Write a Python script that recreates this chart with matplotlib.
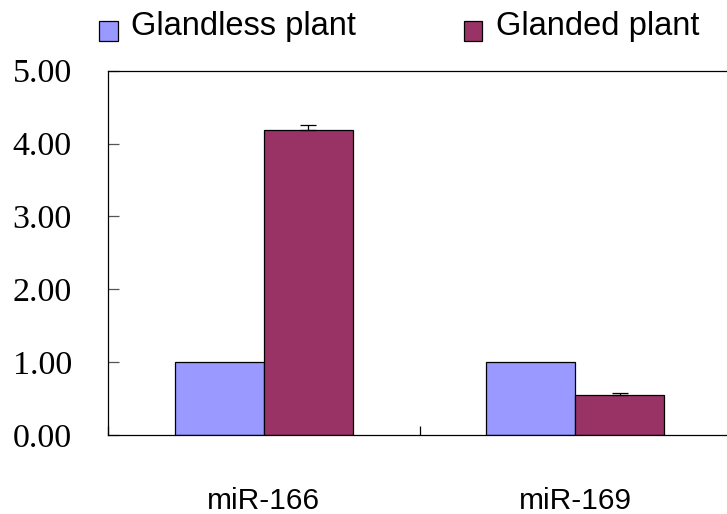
import numpy as np
import matplotlib.pyplot as plt
from matplotlib.patches import Rectangle
from matplotlib.legend_handler import HandlerPatch

# data
categories = ['miR-166', 'miR-169']
series_names = ['Glandless plant', 'Glanded plant']
glandless = [1.00, 1.00]
glanded = [4.18, 0.55]
glanded_err = [0.08, 0.03]
y_ticks = [0, 1, 2, 3, 4, 5]

colors = ['#9999FF', '#993366']
bar_w = 0.2857


# Excel-like legend key: square sits a bit below the text centre
def low_square(legend, orig_handle, xdescent, ydescent, width, height, fontsize):
    return Rectangle((-xdescent, -ydescent - 5.8), width, height)


fig = plt.figure(figsize=(7.27, 5.14), dpi=100)
ax = fig.add_axes([108 / 727, 79 / 514, 623 / 727, 364.3 / 514])

x = np.arange(len(categories))
b1 = ax.bar(x - bar_w / 2, glandless, bar_w, color=colors[0],
            edgecolor='black', linewidth=0.9, label=series_names[0], zorder=2)
b2 = ax.bar(x + bar_w / 2, glanded, bar_w, color=colors[1],
            edgecolor='black', linewidth=0.9, label=series_names[1], zorder=2)
# upper error bars only
ax.errorbar(x + bar_w / 2, glanded, yerr=[np.zeros(len(glanded)), glanded_err],
            fmt='none', ecolor='black', elinewidth=0.9, capsize=6, capthick=0.9, zorder=3)

ax.set_xlim(-0.5, 1.5)
ax.set_ylim(0, 5)

ax.set_yticks(y_ticks)
ax.set_yticklabels([f'{v:.2f}' for v in y_ticks], family='Liberation Serif', fontsize=24.5)
ax.tick_params(axis='y', direction='in', length=8, width=0.9, color='#555555', pad=26)

ax.set_xticks(x)
ax.set_xticklabels(categories, family='Liberation Sans', fontsize=21.5)
ax.tick_params(axis='x', which='major', length=0, pad=37.5)
ax.set_xticks([-0.5, 0.5, 1.5], minor=True)
ax.tick_params(axis='x', which='minor', direction='in', length=6.5, width=0.9, color='black')

for side in ['left', 'bottom', 'top']:
    ax.spines[side].set_color('black')
    ax.spines[side].set_linewidth(0.9)
ax.spines['right'].set_visible(False)

h1, h2 = b1.patches[0], b2.patches[0]
fig.legend(handles=[h1, h2], labels=series_names, loc='center left',
           bbox_to_anchor=(99 / 727, 1 - 26 / 514), ncol=2, frameon=False,
           prop={'family': 'Liberation Sans', 'size': 23.5},
           handler_map={h1: HandlerPatch(patch_func=low_square),
                        h2: HandlerPatch(patch_func=low_square)},
           handlelength=0.58, handleheight=0.58, handletextpad=0.4,
           columnspacing=3.3, borderpad=0, borderaxespad=0)

fig.savefig('out.png', dpi=100)
